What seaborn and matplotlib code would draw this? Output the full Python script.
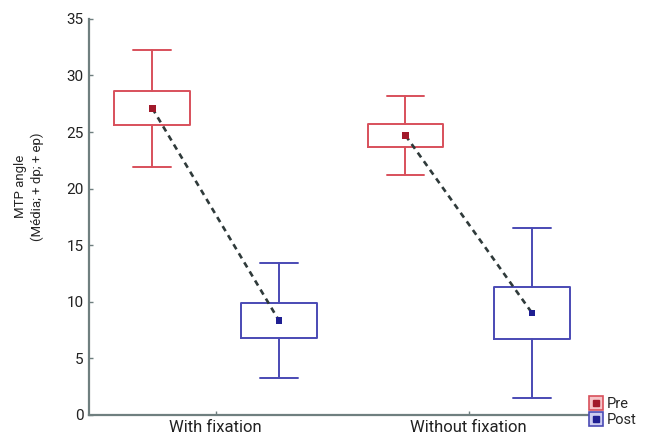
import numpy as np
import pandas as pd
import matplotlib
matplotlib.use('Agg')
import matplotlib.pyplot as plt
import seaborn as sns
from matplotlib.lines import Line2D

# values (mean, standard error, standard deviation)
groups = ['With fixation', 'Without fixation']
phases = ['Pre', 'Post']
mean_pre = [27.1, 24.7]
se_pre = [1.5, 1.05]
sd_pre = [5.15, 3.5]
mean_post = [8.35, 9.0]
se_post = [1.55, 2.3]
sd_post = [5.1, 7.5]
yticks = [0, 5, 10, 15, 20, 25, 30, 35]

sns.set_theme(style='ticks')
plt.rcParams['font.family'] = ['Roboto', 'DejaVu Sans']

red = '#d8505b'
blue = '#4a4ab4'
red_dark = '#a11a2b'
blue_dark = '#1f1f92'
axis_col = '#6f7f7f'

fig, ax = plt.subplots(figsize=(6.45, 4.4), dpi=100)
fig.subplots_adjust(left=0.138, right=0.927, bottom=0.057, top=0.957)

offsets = {'Pre': -0.25, 'Post': 0.25}
series = {'Pre': (mean_pre, se_pre, sd_pre, red),
          'Post': (mean_post, se_post, sd_post, blue)}

rows = []
for ph in phases:
    m, se, sd, col = series[ph]
    stats = []
    pos = []
    for i, g in enumerate(groups):
        stats.append(dict(med=m[i], q1=m[i] - se[i], q3=m[i] + se[i],
                          whislo=m[i] - sd[i], whishi=m[i] + sd[i], fliers=[]))
        pos.append(i + offsets[ph])
        rows.append(dict(group=g, phase=ph, x=i + offsets[ph], mean=m[i]))
    lp = dict(color=col, lw=1.4)
    ax.bxp(stats, positions=pos, widths=0.3, capwidths=0.15, showfliers=False,
           boxprops=lp, whiskerprops=lp, capprops=lp, medianprops=dict(lw=0))

df = pd.DataFrame(rows)

# dashed line linking pre and post means inside each group
sns.lineplot(data=df, x='x', y='mean', units='group', estimator=None,
             color='#2f3a3a', lw=1.9, linestyle=(0, (2.2, 1.8)), ax=ax,
             legend=False, zorder=3)
sns.scatterplot(data=df, x='x', y='mean', hue='phase', palette=[red_dark, blue_dark],
                marker='s', s=22, linewidth=0, ax=ax, legend=False, zorder=4)

ax.set_xlim(-0.5, 1.51)
ax.set_ylim(0, 35)
ax.set_xticks(range(len(groups)))
ax.set_xticklabels(groups, fontsize=12)
ax.set_yticks(yticks)
ax.set_yticklabels([str(t) for t in yticks], fontsize=11)
ax.set_xlabel('')
ax.set_ylabel('MTP angle\n(Média; + dp; + ep)', fontsize=9.5, linespacing=1.4)
ax.yaxis.set_label_coords(-0.088, 0.576)

sns.despine(ax=ax)
for s in ['left', 'bottom']:
    ax.spines[s].set_color(axis_col)
    ax.spines[s].set_linewidth(1.6)
ax.tick_params(direction='in', length=3, width=1, color=axis_col, pad=4,
               labelcolor='#222222')

h_pre = (Line2D([], [], marker='s', ls='', ms=10, mfc='#f6c4c8', mec=red, mew=1.2),
         Line2D([], [], marker='s', ls='', ms=4, mfc=red_dark, mec=red_dark))
h_post = (Line2D([], [], marker='s', ls='', ms=10, mfc='#ccccf0', mec=blue, mew=1.2),
          Line2D([], [], marker='s', ls='', ms=4, mfc=blue_dark, mec=blue_dark))
fig.legend([h_pre, h_post], phases, loc='lower right', bbox_to_anchor=(1.0, 0.01),
           frameon=False, fontsize=10.5, handlelength=0.8, handletextpad=0.3,
           labelspacing=0.15, borderaxespad=0.2)

fig.savefig('out.png', dpi=100)
